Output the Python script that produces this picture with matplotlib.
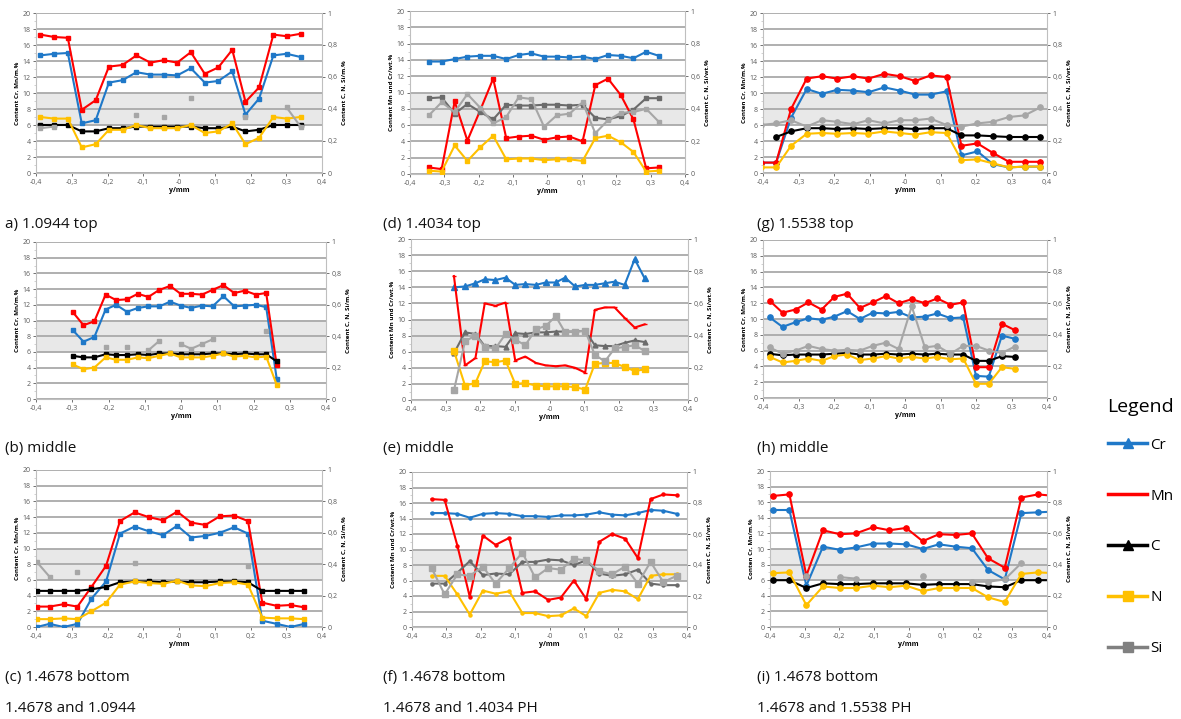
import numpy as np
import matplotlib
matplotlib.use('Agg')
import matplotlib.pyplot as plt
from matplotlib.ticker import FuncFormatter, MultipleLocator
from matplotlib.lines import Line2D

nan = np.nan
W, H = 1181, 719

# ---- data: left axis Cr, Mn (mass %), right axis C, N, Si (mass %) ----
# (a) 1.0944 top
a_y = [-0.388, -0.349, -0.311, -0.272, -0.233, -0.196, -0.158, -0.119, -0.080, -0.043,
       -0.005, 0.033, 0.072, 0.110, 0.149, 0.186, 0.224, 0.264, 0.301, 0.340]
a_cr = [14.7, 14.9, 15.0, 6.2, 6.6, 11.3, 11.6, 12.6, 12.3, 12.3, 12.2, 13.1, 11.3, 11.5, 12.7, 7.3, 9.3, 14.7, 14.9, 14.5]
a_mn = [17.3, 17.0, 16.9, 7.9, 9.1, 13.3, 13.5, 14.7, 13.8, 14.1, 13.8, 15.1, 12.4, 13.2, 15.4, 8.9, 10.7, 17.3, 17.1, 17.4]
a_c = [0.30, 0.30, 0.30, 0.26, 0.26, 0.28, 0.28, 0.29, 0.29, 0.29, 0.29, 0.29, 0.28, 0.28, 0.29, 0.26, 0.27, 0.30, 0.30, 0.30]
a_n = [0.35, 0.34, 0.34, 0.16, 0.18, 0.27, 0.27, 0.30, 0.28, 0.28, 0.28, 0.30, 0.25, 0.26, 0.31, 0.18, 0.22, 0.35, 0.34, 0.35]
a_si = [0.28, 0.29, nan, nan, nan, nan, nan, 0.36, nan, 0.35, nan, 0.47, nan, nan, nan, 0.35, nan, nan, 0.41, 0.29]

# (b) middle
b_y = [-0.299, -0.269, -0.239, -0.208, -0.179, -0.149, -0.119, -0.090, -0.060, -0.030,
       -0.001, 0.028, 0.058, 0.087, 0.117, 0.147, 0.176, 0.206, 0.235, 0.264]
b_cr = [8.8, 7.3, 7.9, 11.4, 12.0, 11.1, 11.6, 11.8, 11.8, 12.4, 11.9, 11.6, 11.9, 11.8, 13.1, 11.8, 11.9, 12.0, 11.7, 2.6]
b_mn = [11.1, 9.4, 9.9, 13.3, 12.6, 12.7, 13.4, 13.0, 13.9, 14.4, 13.4, 13.4, 13.3, 13.9, 14.5, 13.5, 13.8, 13.3, 13.5, 4.3]
b_c = [0.275, 0.265, 0.265, 0.285, 0.28, 0.28, 0.285, 0.28, 0.29, 0.29, 0.285, 0.285, 0.285, 0.29, 0.29, 0.285, 0.29, 0.285, 0.285, 0.24]
b_n = [0.22, 0.19, 0.20, 0.265, 0.25, 0.25, 0.265, 0.26, 0.275, 0.29, 0.265, 0.265, 0.265, 0.275, 0.29, 0.27, 0.275, 0.265, 0.27, 0.09]
b_si = [nan, nan, nan, 0.33, nan, 0.33, nan, 0.31, 0.37, nan, 0.35, 0.32, 0.35, 0.38, nan, nan, nan, nan, 0.43, nan]

# (c) 1.4678 bottom
c_y = [-0.398, -0.362, -0.323, -0.284, -0.245, -0.204, -0.165, -0.124, -0.085, -0.045,
       -0.005, 0.034, 0.074, 0.114, 0.154, 0.193, 0.233, 0.273, 0.312, 0.351]
c_cr = [0.0, 0.4, 0.0, 0.4, 3.6, 5.8, 11.9, 12.8, 12.2, 11.7, 12.9, 11.4, 11.6, 12.0, 12.7, 11.9, 0.8, 0.4, 0.0, 0.4]
c_mn = [2.6, 2.6, 2.9, 2.6, 5.1, 7.8, 13.5, 14.6, 14.0, 13.6, 14.7, 13.3, 13.0, 14.1, 14.2, 13.5, 3.1, 2.7, 2.8, 2.5]
c_c = [0.23, 0.23, 0.23, 0.23, 0.24, 0.255, 0.285, 0.29, 0.29, 0.285, 0.29, 0.285, 0.285, 0.29, 0.29, 0.285, 0.23, 0.23, 0.23, 0.23]
c_n = [0.05, 0.05, 0.055, 0.05, 0.10, 0.155, 0.27, 0.29, 0.28, 0.275, 0.295, 0.265, 0.26, 0.28, 0.285, 0.27, 0.06, 0.055, 0.055, 0.05]
c_si = [0.415, 0.32, nan, 0.35, nan, nan, nan, 0.41, nan, nan, nan, nan, nan, nan, nan, 0.39, nan, nan, nan, nan]

# (d) 1.4034 top
d_y = [-0.345, -0.308, -0.270, -0.233, -0.195, -0.158, -0.120, -0.084, -0.047, -0.010,
       0.027, 0.064, 0.102, 0.139, 0.176, 0.213, 0.250, 0.287, 0.324]
d_cr = [13.8, 13.8, 14.1, 14.4, 14.5, 14.5, 14.1, 14.6, 14.8, 14.4, 14.4, 14.3, 14.4, 14.1, 14.6, 14.5, 14.2, 15.0, 14.5]
d_mn = [0.8, 0.6, 8.9, 4.1, 7.9, 11.7, 4.4, 4.6, 4.7, 4.2, 4.5, 4.6, 4.0, 10.9, 11.7, 9.7, 6.7, 0.7, 0.8]
d_c = [0.465, 0.47, 0.37, 0.43, 0.38, 0.335, 0.425, 0.42, 0.42, 0.425, 0.425, 0.42, 0.425, 0.345, 0.335, 0.355, 0.395, 0.465, 0.465]
d_n = [0.02, 0.015, 0.175, 0.08, 0.165, 0.235, 0.09, 0.095, 0.095, 0.085, 0.09, 0.09, 0.08, 0.22, 0.235, 0.195, 0.135, 0.015, 0.02]
d_si = [0.36, 0.44, 0.38, 0.49, 0.405, 0.31, 0.35, 0.47, 0.46, 0.29, 0.36, 0.37, 0.44, 0.25, 0.33, 0.375, 0.38, 0.40, 0.32]

# (e) middle
e_y = [-0.276, -0.244, -0.214, -0.187, -0.156, -0.127, -0.099, -0.070, -0.039, -0.011,
       0.018, 0.045, 0.074, 0.103, 0.131, 0.160, 0.188, 0.217, 0.246, 0.275]
e_cr = [14.0, 14.1, 14.5, 15.0, 14.9, 15.2, 14.3, 14.4, 14.3, 14.6, 14.6, 15.2, 14.1, 14.3, 14.3, 14.5, 14.7, 14.3, 17.5, 15.1]
e_mn = [15.4, 4.3, 5.2, 12.0, 11.7, 12.1, 4.9, 5.4, 4.6, 4.3, 4.2, 4.3, 4.0, 3.4, 11.2, 11.5, 11.5, 10.2, 9.0, 9.4]
e_c = [0.29, 0.42, 0.41, 0.335, 0.335, 0.33, 0.415, 0.41, 0.42, 0.42, 0.425, 0.425, 0.425, 0.43, 0.34, 0.335, 0.335, 0.355, 0.37, 0.36]
e_n = [0.305, 0.09, 0.105, 0.24, 0.235, 0.245, 0.10, 0.105, 0.09, 0.085, 0.085, 0.085, 0.08, 0.065, 0.225, 0.23, 0.23, 0.205, 0.18, 0.19]
e_si = [0.06, 0.365, 0.40, 0.33, 0.32, 0.41, 0.375, 0.34, 0.44, 0.46, 0.52, 0.42, 0.425, 0.43, 0.28, 0.24, 0.32, 0.33, 0.34, 0.305]

# (f) 1.4678 bottom
f_y = [-0.343, -0.305, -0.268, -0.232, -0.194, -0.157, -0.117, -0.079, -0.042, -0.004,
       0.033, 0.071, 0.107, 0.145, 0.182, 0.220, 0.257, 0.294, 0.331, 0.370]
f_cr = [14.7, 14.7, 14.6, 14.1, 14.6, 14.7, 14.6, 14.3, 14.3, 14.2, 14.4, 14.4, 14.5, 14.8, 14.5, 14.4, 14.7, 15.1, 15.0, 14.6]
f_mn = [16.5, 16.4, 10.5, 3.9, 11.8, 10.6, 11.5, 4.4, 4.6, 3.5, 3.8, 6.0, 3.6, 11.0, 12.0, 11.4, 8.9, 16.5, 17.1, 17.0]
f_c = [0.28, 0.28, 0.35, 0.425, 0.335, 0.345, 0.34, 0.42, 0.42, 0.435, 0.43, 0.40, 0.43, 0.345, 0.33, 0.34, 0.37, 0.28, 0.27, 0.27]
f_n = [0.33, 0.33, 0.21, 0.08, 0.235, 0.215, 0.23, 0.09, 0.09, 0.07, 0.075, 0.12, 0.07, 0.22, 0.24, 0.23, 0.18, 0.33, 0.34, 0.34]
f_si = [0.38, 0.21, 0.34, 0.33, 0.39, 0.28, 0.38, 0.48, 0.32, 0.38, 0.37, 0.44, 0.43, 0.36, 0.34, 0.39, 0.28, 0.42, 0.29, 0.33]

# (g) 1.5538 top
g_y = [-0.406, -0.363, -0.321, -0.277, -0.234, -0.191, -0.146, -0.103, -0.058, -0.015,
       0.029, 0.072, 0.117, 0.159, 0.204, 0.248, 0.293, 0.337, 0.381]
g_cr = [1.3, 1.3, 6.9, 10.5, 9.9, 10.4, 10.3, 10.1, 10.7, 10.3, 9.8, 9.8, 10.2, 2.2, 2.7, 1.1, 0.7, 0.8, 0.8]
g_mn = [1.3, 1.3, 8.0, 11.8, 12.1, 11.8, 12.1, 11.8, 12.4, 12.1, 11.5, 12.2, 12.0, 3.4, 3.7, 2.5, 1.4, 1.4, 1.4]
g_c = [nan, 0.225, 0.26, 0.28, 0.28, 0.275, 0.28, 0.275, 0.28, 0.28, 0.275, 0.28, 0.28, 0.235, 0.235, 0.23, 0.225, 0.225, 0.225]
g_n = [0.035, 0.035, 0.17, 0.245, 0.25, 0.245, 0.25, 0.245, 0.26, 0.25, 0.24, 0.255, 0.25, 0.08, 0.085, 0.06, 0.035, 0.04, 0.04]
g_si = [0.30, 0.31, 0.33, 0.29, 0.33, 0.32, 0.305, 0.33, 0.31, 0.33, 0.33, 0.34, 0.30, 0.29, 0.31, 0.32, 0.35, 0.36, 0.41]

# (h) middle
h_y = [-0.381, -0.345, -0.308, -0.272, -0.235, -0.199, -0.163, -0.127, -0.091, -0.054,
       -0.018, 0.019, 0.056, 0.091, 0.128, 0.164, 0.200, 0.236, 0.273, 0.309]
h_cr = [10.2, 9.0, 9.6, 10.1, 9.9, 10.3, 11.0, 10.0, 10.8, 10.7, 10.9, 10.2, 10.3, 10.7, 10.1, 10.2, 2.8, 2.7, 7.9, 7.5]
h_mn = [12.3, 10.8, 11.2, 12.1, 11.2, 12.8, 13.2, 11.4, 12.1, 12.9, 12.0, 12.5, 12.0, 12.6, 11.8, 12.1, 3.9, 3.9, 9.4, 8.6]
h_c = [0.28, 0.27, 0.275, 0.275, 0.275, 0.28, 0.285, 0.275, 0.275, 0.28, 0.275, 0.28, 0.275, 0.28, 0.275, 0.275, 0.235, 0.235, 0.265, 0.26]
h_n = [0.26, 0.225, 0.235, 0.25, 0.235, 0.265, 0.275, 0.24, 0.25, 0.265, 0.25, 0.26, 0.25, 0.26, 0.245, 0.25, 0.09, 0.09, 0.195, 0.185]
h_si = [0.32, 0.28, 0.30, 0.33, 0.31, 0.30, 0.305, 0.30, 0.33, 0.35, 0.31, 0.58, 0.32, 0.33, 0.28, 0.33, 0.33, 0.30, 0.285, 0.325]

# (i) 1.4678 bottom
i_y = [-0.392, -0.344, -0.295, -0.247, -0.199, -0.152, -0.102, -0.055, -0.007, 0.041,
       0.088, 0.136, 0.183, 0.230, 0.278, 0.326, 0.374, 0.422]
i_cr = [15.0, 15.0, 5.3, 10.3, 9.9, 10.2, 10.7, 10.7, 10.6, 10.0, 10.6, 10.3, 10.1, 7.3, 6.1, 14.6, 14.7, 14.8]
i_mn = [16.8, 17.0, 6.6, 12.4, 11.9, 12.0, 12.8, 12.4, 12.7, 11.0, 11.9, 11.8, 12.0, 8.8, 7.6, 16.6, 17.0, 16.8]
i_c = [0.30, 0.30, 0.25, 0.28, 0.275, 0.275, 0.28, 0.28, 0.28, 0.27, 0.275, 0.275, 0.275, 0.26, 0.255, 0.30, 0.30, 0.30]
i_n = [0.345, 0.35, 0.14, 0.26, 0.25, 0.25, 0.265, 0.255, 0.265, 0.23, 0.25, 0.25, 0.25, 0.19, 0.16, 0.34, 0.35, 0.345]
i_si = [nan, nan, 0.33, nan, 0.32, 0.31, nan, nan, nan, 0.33, nan, nan, 0.29, 0.29, 0.305, 0.41, nan, nan]

elements = ['Cr', 'Mn', 'C', 'N', 'Si']

# ---- styling ----
COL = {'Cr': '#1f78c8', 'Mn': '#ff0000', 'C': '#000000', 'N': '#ffc000', 'Si': '#a6a6a6'}
DARK = '#6b6b6b'
LBL_M = 'Content Cr, Mn/m.%'
LBL_MN = 'Content Mn und Cr/wt.%'
LBL_G = 'Conten Cr, Mn/m.%'
R_M = 'Content C, N, Si/m.%'
R_W = 'Content C, N, Si/wt.%'

plt.rcParams['font.family'] = ['Open Sans', 'DejaVu Sans']
comma = FuncFormatter(lambda v, p: f'{v:g}'.replace('.', ','))


def px_rect(l, t, r, b):
    return [l / W, 1 - b / H, (r - l) / W, (b - t) / H]


def draw_panel(rect, y, cr, mn, c, n, si, ylab, rlab, mk, c_color='#000000'):
    ax = fig.add_axes(px_rect(*rect))
    ax.axhspan(6, 10, color='#e8e8e8', zorder=0, lw=0)
    ax.set_xlim(-0.4, 0.4)
    ax.set_ylim(0, 20)
    ax.set_yticks(np.arange(0, 21, 2))
    ax.yaxis.set_minor_locator(MultipleLocator(1))
    ax.set_xticks(np.round(np.arange(-0.4, 0.41, 0.1), 1))
    ax.xaxis.set_major_formatter(comma)
    ax.yaxis.grid(True, color='#a9a9a9', lw=1.3, zorder=0.5)
    ax.set_axisbelow(True)
    for s in ['top', 'right']:
        ax.spines[s].set_visible(False)
    for s in ['left', 'bottom']:
        ax.spines[s].set_color('#bfbfbf')
        ax.spines[s].set_linewidth(0.8)
    ax.tick_params(labelsize=5, colors='#595959', length=2, width=0.6, pad=2)
    ax.tick_params(which='minor', length=1.5, width=0.5, colors='#bfbfbf')
    ax.set_ylabel(ylab, fontsize=4.5, fontweight='bold', labelpad=2)
    ax.set_xlabel('y/mm', fontsize=5, fontweight='bold', labelpad=1)

    ax.plot(y, cr, color=COL['Cr'], lw=1.5, marker=mk['Cr'][0], ms=mk['Cr'][1], zorder=3)
    ax.plot(y, mn, color=COL['Mn'], lw=1.5, marker=mk['Mn'][0], ms=mk['Mn'][1], zorder=3)

    ax2 = ax.twinx()
    ax2.set_ylim(0, 1)
    ax2.set_yticks(np.arange(0, 1.01, 0.2))
    ax2.yaxis.set_major_formatter(comma)
    for s in ['top', 'left', 'bottom']:
        ax2.spines[s].set_visible(False)
    ax2.spines['right'].set_color('#bfbfbf')
    ax2.spines['right'].set_linewidth(0.8)
    ax2.tick_params(labelsize=5, colors='#595959', length=2, width=0.6, pad=2)
    ax2.set_ylabel(rlab, fontsize=4.5, fontweight='bold', labelpad=3)
    ax2.plot(y, c, color=c_color, lw=1.5, marker=mk['C'][0], ms=mk['C'][1])
    ax2.plot(y, n, color=COL['N'], lw=1.5, marker=mk['N'][0], ms=mk['N'][1])
    ax2.plot(y, si, color=COL['Si'], lw=1.5, marker=mk['Si'][0], ms=mk['Si'][1])
    return ax


small = {k: ('s', 2.2) for k in elements}
round_m = {k: ('o', 3.8) for k in elements}
e_mk = {'Cr': ('^', 4.5), 'Mn': ('_', 3), 'C': ('^', 3.5), 'N': ('s', 4.5), 'Si': ('s', 4.5)}
f_mk = {'Cr': ('o', 2.2), 'Mn': ('o', 2.2), 'C': ('o', 2.2), 'N': ('o', 2.2), 'Si': ('s', 4)}

fig = plt.figure(figsize=(W / 100, H / 100), dpi=100)

draw_panel((36, 13, 322, 173), a_y, a_cr, a_mn, a_c, a_n, a_si, LBL_M, R_M, small)
draw_panel((410, 11, 685, 174), d_y, d_cr, d_mn, d_c, d_n, d_si, LBL_MN, R_W, small, DARK)
draw_panel((763, 13, 1047, 173), g_y, g_cr, g_mn, g_c, g_n, g_si, LBL_G, R_W, round_m)
draw_panel((36, 242, 326, 399), b_y, b_cr, b_mn, b_c, b_n, b_si, LBL_M, R_M, small)
draw_panel((411, 239, 688, 400), e_y, e_cr, e_mn, e_c, e_n, e_si, LBL_MN, R_W, e_mk, DARK)
draw_panel((763, 240, 1047, 398), h_y, h_cr, h_mn, h_c, h_n, h_si, LBL_M, R_W, round_m)
draw_panel((36, 470, 322, 627), c_y, c_cr, c_mn, c_c, c_n, c_si, LBL_M, R_M, small)
draw_panel((412, 472, 687, 627), f_y, f_cr, f_mn, f_c, f_n, f_si, LBL_MN, R_W, f_mk, DARK)
draw_panel((770, 471, 1047, 627), i_y, i_cr, i_mn, i_c, i_n, i_si, LBL_G, R_W, round_m)

# captions (baseline positions in pixels)
captions = [
    (5, 228, 'a) 1.0944 top'), (383, 228, '(d) 1.4034 top'), (757, 228, '(g) 1.5538 top'),
    (5, 452, '(b) middle'), (383, 452, '(e) middle'), (757, 452, '(h) middle'),
    (5, 681, '(c) 1.4678 bottom'), (383, 681, '(f) 1.4678 bottom'), (757, 681, '(i) 1.4678 bottom'),
    (5, 712, '1.4678 and 1.0944'), (383, 712, '1.4678 and 1.4034 PH'), (757, 712, '1.4678 and 1.5538 PH'),
]
for x, yy, t in captions:
    fig.text(x / W, 1 - yy / H, t, fontsize=11, va='baseline', ha='left', color='#111111')

# legend
fig.text(1107 / W, 1 - 407 / H, 'Legend', fontsize=14, va='center', ha='left')
handles = [
    Line2D([], [], color=COL['Cr'], lw=2.5, marker='^', ms=7),
    Line2D([], [], color=COL['Mn'], lw=2.5),
    Line2D([], [], color=COL['C'], lw=2.5, marker='^', ms=7),
    Line2D([], [], color=COL['N'], lw=2.5, marker='s', ms=7),
    Line2D([], [], color='#808080', lw=2.5, marker='s', ms=7),
]
fig.legend(handles, elements, loc='upper left', bbox_to_anchor=(1100 / W, 1 - 430 / H),
           frameon=False, fontsize=11, borderpad=0,
           labelspacing=2.35, handlelength=2.6, handletextpad=0.2)

fig.savefig('out.png', dpi=100)
